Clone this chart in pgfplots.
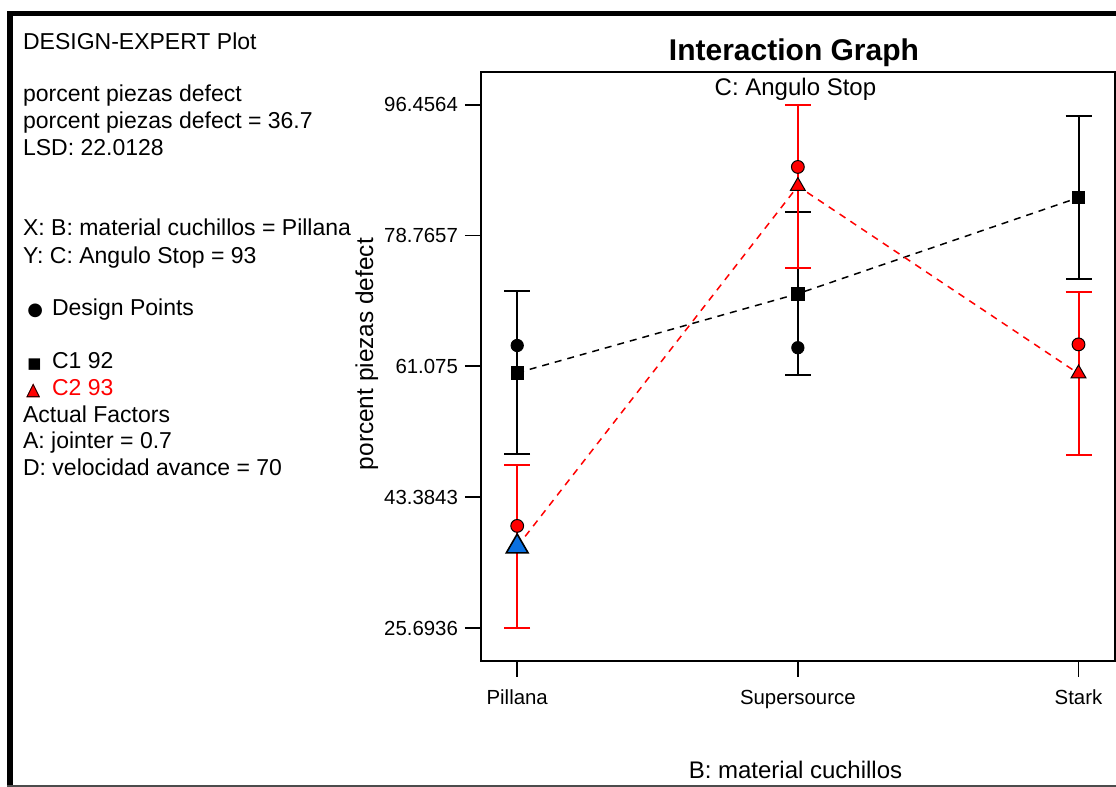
\documentclass[border=0pt]{standalone}
\usepackage{fontspec}
\setmainfont{Liberation Sans}
\newfontfamily\djv{DejaVu Sans}
\usepackage{pgfplots}
\pgfplotsset{compat=1.18}
\definecolor{dblue}{RGB}{10,112,224}

\begin{document}
\begin{tikzpicture}
\useasboundingbox (0,0) rectangle (558pt,393.5pt);
\begin{axis}[
  at={(240.5pt,63pt)}, anchor=south west,
  scale only axis, width=317pt, height=294.5pt,
  xmin=-0.129, xmax=2.13, ymin=21.23, ymax=100.89,
  axis line style={line width=0.9pt},
  tick style={line width=0.9pt, black},
  tick align=outside, tick pos=left,
  major tick length=8pt,
  xtick={0,1,2}, xticklabels={Pillana,Supersource,Stark},
  ytick={25.6936,43.3843,61.075,78.7657,96.4564},
  yticklabels={25.6936,43.3843,61.075,78.7657,96.4564},
  ticklabel style={font=\fontsize{10.2}{12}\selectfont},
  xticklabel style={yshift=-3pt},
  title={Interaction Graph},
  every axis title/.style={at={(axis description cs:0.4937,1.0192)}, anchor=base, font=\fontsize{15}{18}\selectfont\bfseries},
  xlabel={B: material cuchillos},
  xlabel style={at={(axis description cs:0.496,-0.2003)}, anchor=base, font=\fontsize{12}{14}\selectfont},
  ylabel={porcent piezas defect},
  ylabel style={at={(axis description cs:-0.1703,0.521)}, anchor=base, font=\fontsize{12.2}{14}\selectfont},
  clip=false,
]
% means lines
\addplot[black, line width=0.75pt, dash pattern=on 3.5pt off 3pt] coordinates {(0,60.2) (1,70.9) (2,83.9)};
\addplot[red, line width=0.75pt, dash pattern=on 3.5pt off 3pt] coordinates {(0,36.7) (1,85.45) (2,60.1)};
% LSD error bars
\addplot[draw=none, mark=none, error bars/.cd, y dir=both, y explicit,
  error bar style={draw=black, line width=1pt, solid},
  error mark options={rotate=90, draw=black, line width=1pt, mark size=6.5pt}]
  coordinates {(0,60.2) +- (0,11.0064) (1,70.9) +- (0,11.0064) (2,83.9) +- (0,11.0064)};
\addplot[draw=none, mark=none, error bars/.cd, y dir=both, y explicit,
  error bar style={draw=red, line width=1pt, solid},
  error mark options={rotate=90, draw=red, line width=1pt, mark size=6.5pt}]
  coordinates {(0,36.7) +- (0,11.0064) (1,85.45) +- (0,11.0064) (2,60.1) +- (0,11.0064)};
% marks
\addplot[only marks, mark=square*, mark size=3.1pt, mark options={draw=black, fill=black}] coordinates {(0,60.2) (1,70.9) (2,83.9)};
\addplot[only marks, mark=*, mark size=3.1pt, mark options={draw=black, fill=black}] coordinates {(0,63.9) (1,63.6)};
\addplot[only marks, mark=*, mark size=3.2pt, mark options={draw=black, fill=red, line width=0.5pt}] coordinates {(0,39.5) (1,88.05) (2,64.05)};
\addplot[only marks, mark=triangle*, mark size=4.3pt, mark options={draw=black, fill=red, line width=0.5pt}] coordinates {(1,85.45) (2,60.1)};
\addplot[only marks, mark=triangle*, mark size=6.3pt, mark options={draw=black, fill=dblue, line width=0.8pt}] coordinates {(0,36.7)};
\node[anchor=base, font=\fontsize{12}{14}\selectfont] at (axis description cs:0.496,0.9593) {C: Angulo Stop};
\end{axis}
\begin{scope}[x=0.5pt,y=-0.5pt,shift={(0,393.5pt)}]
\fill (7,11) rectangle (1116,16.5);
\fill (7,11) rectangle (13,787);
\draw[gray!60!black, line width=0.6pt] (7,786) -- (1116,786);
\begin{scope}[every node/.style={anchor=base west, inner sep=0pt, font=\fontsize{11.5}{13}\selectfont}]
\node at (22.7,50) {DESIGN-EXPERT Plot};
\node at (22.7,102) {porcent piezas defect};
\node at (22.7,129) {porcent piezas defect = 36.7};
\node at (22.7,155.7) {LSD: 22.0128};
\node at (22.7,235.7) {X: B: material cuchillos = Pillana};
\node at (22.7,263.3) {Y: C: Angulo Stop = 93};
\node at (27,315.7) {\djv\fontsize{9}{10}\selectfont ●};
\node at (51.7,315.7) {Design Points};
\node at (27,369) {\djv\fontsize{7.5}{8}\selectfont ■};
\node at (51.7,369) {C1 92};
\node at (26,396) {\djv\fontsize{9}{10}\selectfont\rlap{\textcolor{red}{▲}}△};
\node at (51.7,396) {\textcolor{red}{C2 93}};
\node at (22.7,422.7) {Actual Factors};
\node at (22.7,449) {A: jointer = 0.7};
\node at (22.7,475.7) {D: velocidad avance = 70};
\end{scope}
\end{scope}
\end{tikzpicture}
\end{document}
